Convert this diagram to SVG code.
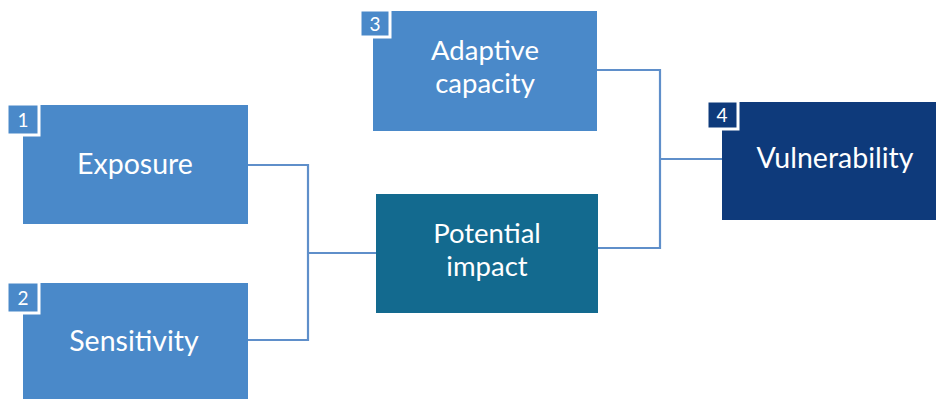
<svg xmlns="http://www.w3.org/2000/svg" width="938" height="399" viewBox="0 0 938 399">
  <style>
    .light { fill: #4a89c9; }
    .teal { fill: #136a8f; }
    .navy { fill: #0e3a7b; }
    .badge { stroke: #ffffff; stroke-width: 3; }
    .label { font-family: Lato, "Open Sans", "Liberation Sans", sans-serif; font-size: 28.5px; fill: #ffffff; text-anchor: middle; }
    .two { font-size: 27.5px; }
    .num { font-family: Lato, "Open Sans", "Liberation Sans", sans-serif; font-size: 19px; fill: #ffffff; text-anchor: middle; }
    .link { fill: none; stroke: #5f8fca; stroke-width: 2.2; }
  </style>
  <rect width="938" height="399" fill="#ffffff"/>

  <g id="connectors">
    <polyline class="link" points="248,165 308,165 308,340 248,340"/>
    <line class="link" x1="308" y1="253" x2="377" y2="253"/>
    <polyline class="link" points="597,70 660,70 660,248 598,248"/>
    <line class="link" x1="660" y1="159" x2="723" y2="159"/>
  </g>

  <g id="exposure">
    <rect class="light" x="23" y="105" width="225" height="119"/>
    <rect class="light badge" x="7" y="104" width="32" height="31"/>
    <text class="num" x="23" y="127">1</text>
    <text class="label" x="135" y="174">Exposure</text>
  </g>

  <g id="sensitivity">
    <rect class="light" x="23" y="283" width="225" height="120"/>
    <rect class="light badge" x="7" y="282" width="32" height="31"/>
    <text class="num" x="23" y="305">2</text>
    <text class="label" x="134" y="351">Sensitivity</text>
  </g>

  <g id="adaptive-capacity">
    <rect class="light" x="373" y="11" width="224" height="120"/>
    <rect class="light badge" x="360" y="10" width="30" height="27"/>
    <text class="num" x="375" y="31">3</text>
    <text class="label two" x="485" y="60">Adaptive</text>
    <text class="label two" x="485" y="93">capacity</text>
  </g>

  <g id="potential-impact">
    <rect class="teal" x="376" y="194" width="222" height="119"/>
    <text class="label two" x="487" y="243">Potential</text>
    <text class="label two" x="487" y="276">impact</text>
  </g>

  <g id="vulnerability">
    <rect class="navy" x="722" y="102" width="214" height="118"/>
    <rect class="navy badge" x="707" y="101" width="31" height="28"/>
    <text class="num" x="722" y="122">4</text>
    <text class="label" x="835" y="168">Vulnerability</text>
  </g>
</svg>
